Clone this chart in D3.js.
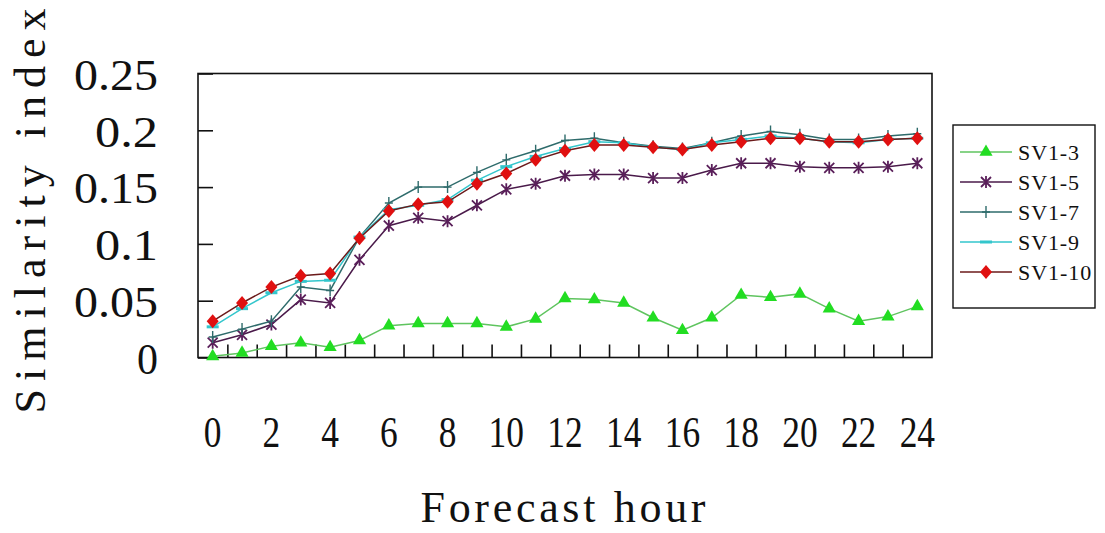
<!DOCTYPE html>
<html><head><meta charset="utf-8">
<script src="https://cdn.jsdelivr.net/npm/d3@7"></script>
<style>body{margin:0;background:#fff}svg{display:block}</style></head>
<body><svg id="c" width="1105" height="533"></svg>
<script>
// ---- data ----
const hours = [0,1,2,3,4,5,6,7,8,9,10,11,12,13,14,15,16,17,18,19,20,21,22,23,24];
const xTickLabels = [0,2,4,6,8,10,12,14,16,18,20,22,24];
const yTicks = [0,0.05,0.1,0.15,0.2,0.25];
const yTickLabels = ["0","0.05","0.1","0.15","0.2","0.25"];
const seriesNames = ["SV1-3","SV1-5","SV1-7","SV1-9","SV1-10"];
const sv13  = [0.001,0.004,0.010,0.013,0.009,0.015,0.028,0.030,0.030,0.030,0.027,0.034,0.052,0.051,0.048,0.035,0.024,0.035,0.055,0.053,0.056,0.043,0.032,0.036,0.045];
const sv15  = [0.013,0.020,0.029,0.051,0.048,0.086,0.116,0.123,0.120,0.134,0.148,0.153,0.160,0.161,0.161,0.158,0.158,0.165,0.171,0.171,0.168,0.167,0.167,0.168,0.171];
const sv17  = [0.018,0.025,0.032,0.062,0.059,0.106,0.136,0.150,0.150,0.163,0.174,0.182,0.191,0.193,0.189,0.186,0.184,0.189,0.195,0.199,0.196,0.192,0.192,0.195,0.197];
const sv19  = [0.027,0.043,0.057,0.067,0.068,0.106,0.130,0.134,0.139,0.156,0.168,0.177,0.184,0.190,0.189,0.185,0.183,0.189,0.192,0.195,0.193,0.190,0.189,0.192,0.193];
const sv110 = [0.032,0.048,0.062,0.072,0.074,0.105,0.129,0.135,0.137,0.153,0.162,0.174,0.182,0.187,0.187,0.185,0.183,0.187,0.190,0.193,0.193,0.190,0.190,0.192,0.193];
const seriesValues = [sv13, sv15, sv17, sv19, sv110];

// ---- styles ----
const styles = [
  {line:"#5fc45f", mark:"#22dd22", shape:"tri"},
  {line:"#4a1a4a", mark:"#5a1f5a", shape:"ast"},
  {line:"#2e6b6b", mark:"#2e6b6b", shape:"plus"},
  {line:"#33c6cc", mark:"#33c6cc", shape:"dash"},
  {line:"#6b1a1a", mark:"#e01010", shape:"dia"}
];

const svg = d3.select("#c");
const L=198, R=932, T=73.5, B=357.5;
const x = d3.scaleBand().domain(hours).range([L,R]).padding(0);
const xc = h => x(h) + x.bandwidth()/2;
const xb = d3.scaleLinear().domain([0,hours.length]).range([L,R]);
const y = d3.scaleLinear().domain([0,0.25]).range([B,T]);

const serif = "'Liberation Serif','Times New Roman',serif";

// frame
svg.append("rect").attr("x",L).attr("y",T).attr("width",R-L).attr("height",B-T)
  .attr("fill","none").attr("stroke","#111").attr("stroke-width",1.6);

// y axis
const ya = svg.append("g").attr("transform",`translate(${L},0)`)
  .call(d3.axisLeft(y).tickValues(yTicks).tickSize(-15).tickPadding(40)
    .tickFormat((d,i)=>yTickLabels[i]));
ya.select(".domain").remove();
ya.selectAll(".tick line").attr("stroke","#111").attr("stroke-width",1.6);
ya.selectAll(".tick text").attr("font-family",serif).attr("font-size",44).attr("fill","#111")
  .attr("dy","0.36em")
  .attr("textLength",(d,i)=>yTickLabels[i].length*21).attr("lengthAdjust","spacingAndGlyphs");

// x tick marks (category boundaries)
const xt = svg.append("g").attr("transform",`translate(0,${B})`)
  .call(d3.axisBottom(xb).tickValues(d3.range(1,hours.length)).tickSize(-13).tickFormat(""));
xt.select(".domain").remove();
xt.selectAll(".tick line").attr("stroke","#111").attr("stroke-width",1.6);

// x labels
const xl = svg.append("g").attr("transform",`translate(0,${B})`)
  .call(d3.axisBottom(x).tickValues(xTickLabels).tickSize(0).tickPadding(58));
xl.select(".domain").remove();
xl.selectAll(".tick text").attr("font-family",serif).attr("font-size",44).attr("fill","#111")
  .attr("textLength",d=>String(d).length*17.7).attr("lengthAdjust","spacingAndGlyphs");

// axis titles
svg.append("text").attr("x",563).attr("y",522).attr("text-anchor","middle")
  .attr("font-family",serif).attr("font-size",44).attr("fill","#111")
  .attr("textLength",285).attr("lengthAdjust","spacing").text("Forecast hour");
svg.append("text").attr("transform","translate(45,211) rotate(-90)").attr("text-anchor","middle")
  .attr("font-family",serif).attr("font-size",44).attr("fill","#111")
  .attr("textLength",405).attr("lengthAdjust","spacing").text("Similarity index");

// marker drawing
function marker(g, shape, color){
  if(shape==="tri"){
    g.append("path").attr("d",d3.symbol().type(d3.symbolTriangle).size(75)()).attr("fill",color);
  } else if(shape==="dia"){
    g.append("path").attr("d","M0,-7L6,0L0,7L-6,0Z").attr("fill",color);
  } else if(shape==="ast"){
    g.append("path").attr("d","M-5,-5L5,5M-5,5L5,-5M0,-6L0,6").attr("stroke",color).attr("stroke-width",1.8).attr("fill","none");
  } else if(shape==="plus"){
    g.append("path").attr("d","M0,-6L0,6M-4,0L4,0").attr("stroke",color).attr("stroke-width",1.4).attr("fill","none");
  } else if(shape==="dash"){
    g.append("path").attr("d","M-6,0L6,0").attr("stroke",color).attr("stroke-width",3).attr("fill","none");
  }
}

const line = d3.line().x((d,i)=>xc(hours[i])).y(d=>y(d));
seriesValues.forEach((vals,k)=>{
  const st = styles[k];
  svg.append("path").datum(vals).attr("d",line).attr("fill","none")
    .attr("stroke",st.line).attr("stroke-width",1.5);
  const mg = svg.append("g");
  vals.forEach((v,i)=>{
    const g = mg.append("g").attr("transform",`translate(${xc(hours[i])},${y(v)})`);
    marker(g, st.shape, st.mark);
  });
});

// legend
const lg = svg.append("g");
lg.append("rect").attr("x",953).attr("y",125).attr("width",142).attr("height",183)
  .attr("fill","#fff").attr("stroke","#111").attr("stroke-width",1.4);
const legY = d3.scalePoint().domain(seriesNames).range([152,272]);
seriesNames.forEach((n,k)=>{
  const st = styles[k];
  const yy = legY(n);
  lg.append("line").attr("x1",960).attr("x2",1012).attr("y1",yy).attr("y2",yy)
    .attr("stroke",st.line).attr("stroke-width",1.5);
  const g = lg.append("g").attr("transform",`translate(986,${yy})`);
  marker(g, st.shape, st.mark);
  lg.append("text").attr("x",1018).attr("y",yy).attr("dy","0.36em")
    .attr("font-family",serif).attr("font-size",22).attr("fill","#111")
    .attr("textLength",n.length*12.2).attr("lengthAdjust","spacing").text(n);
});
</script></body></html>
